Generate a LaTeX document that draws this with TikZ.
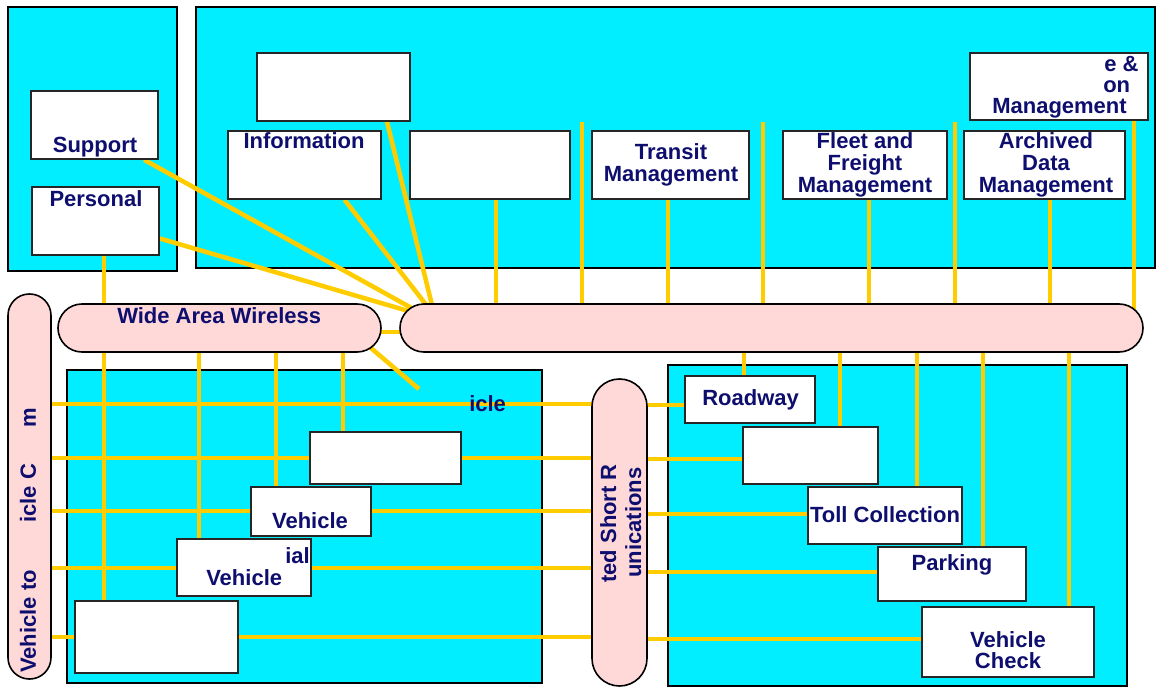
\documentclass[tikz,border=0pt]{standalone}
\usepackage{fontspec}
\setmainfont{Liberation Sans}
\usetikzlibrary{fit,calc}
\definecolor{panelcyan}{RGB}{0,238,255}
\definecolor{buspink}{RGB}{255,216,216}
\definecolor{wireyellow}{RGB}{255,204,0}
\definecolor{inknavy}{RGB}{14,14,110}
\pgfdeclarelayer{panels}
\pgfdeclarelayer{wires}
\pgfsetlayers{panels,wires,main}
\tikzset{
  panel/.style={draw=black, line width=1.3pt, fill=panelcyan, inner sep=0pt},
  unitbox/.style={draw=black!85, line width=1.2pt, fill=white, inner sep=0pt},
  busbar/.style={draw=black, line width=1.2pt, fill=buspink, inner sep=0pt, rounded corners=#1},
  wire/.style={draw=wireyellow, line width=3.4pt},
  lbl/.style={text=inknavy, font=\fontsize{16.5}{16}\selectfont\bfseries, inner sep=0pt, anchor=base},
}
\begin{document}
\begin{tikzpicture}[x=0.75pt, y=-0.75pt]
\useasboundingbox (0,0) rectangle (1156,688);

% ---- cyan subsystem panels
\begin{pgfonlayer}{panels}
  \node[panel, fit={(8,7) (177,271)}] (pA) {};
  \node[panel, fit={(196,7) (1155,268)}] (pB) {};
  \node[panel, fit={(67,370) (542,683)}] (pC) {};
  \node[panel, fit={(668,365) (1127,686)}] (pD) {};
\end{pgfonlayer}

% ---- communication buses
\node[busbar=18pt, fit={(58,304) (381,352)}] (waw) {};
\node[busbar=18pt, fit={(400,304) (1143,352)}] (its) {};
\node[busbar=16pt, fit={(8,294) (51,679)}] (v2v) {};
\node[busbar=20.6pt, fit={(592,379) (647,686)}] (dsrc) {};

% ---- subsystem boxes
\node[unitbox, fit={(31,91) (158,159)}] (sup) {};
\node[unitbox, fit={(32,187) (159,255)}] (per) {};
\node[unitbox, fit={(257,53) (410,121)}] (ua) {};
\node[unitbox, fit={(228,131) (381,199)}] (inf) {};
\node[unitbox, fit={(410,131) (570,199)}] (uc) {};
\node[unitbox, fit={(592,131) (749,199)}] (trn) {};
\node[unitbox, fit={(783,131) (947,199)}] (flt) {};
\node[unitbox, fit={(964,131) (1125,199)}] (arc) {};
\node[unitbox, fit={(970,53) (1148,120)}] (mcm) {};
\node[unitbox, fit={(310,432) (461,484)}] (va) {};
\node[unitbox, fit={(251,487) (371,536)}] (vb) {};
\node[unitbox, fit={(177,539) (311,596)}] (vc) {};
\node[unitbox, fit={(75,601) (238,673)}] (vd) {};
\node[unitbox, fit={(685,376) (815,423)}] (rd) {};
\node[unitbox, fit={(743,427) (878,484)}] (rb) {};
\node[unitbox, fit={(808,487) (962,544)}] (tol) {};
\node[unitbox, fit={(878,547) (1026,601)}] (prk) {};
\node[unitbox, fit={(922,607) (1094,677)}] (vck) {};

% free ends of the open wires
\coordinate (f1) at (582,122);
\coordinate (f2) at (763,122);
\coordinate (f3) at (955,122);
\coordinate (dg) at (419,389);

% ---- wires
\begin{pgfonlayer}{wires}
  % centres fanning into the main bus
  \draw[wire] ([xshift=-11pt]sup.south east) -- ($(its.west)+(16,-18)$);
  \draw[wire] ([yshift=13pt]per.south east) -- ($(its.west)+(16,-15)$);
  \draw[wire] ($(inf.south)+(40,0)$) -- ($(its.west)+(31,-18)$);
  \draw[wire] ($(ua.south)+(53.5,0)$) -- ($(its.west)+(34,-18)$);
  % drops from the upper panel
  \draw[wire] (496,0 |- uc.south) -- (496,0 |- its.center);
  \draw[wire] (f1) -- (f1 |- its.center);
  \draw[wire] (668,0 |- trn.south) -- (668,0 |- its.center);
  \draw[wire] (f2) -- (f2 |- its.center);
  \draw[wire] (869,0 |- flt.south) -- (869,0 |- its.center);
  \draw[wire] (f3) -- (f3 |- its.center);
  \draw[wire] (1050,0 |- arc.south) -- (1050,0 |- its.center);
  \draw[wire] (1134,0 |- mcm.south) -- (1134,0 |- its.center);
  % roadside drops
  \draw[wire] (744,0 |- its.center) -- (744,0 |- rd.north);
  \draw[wire] (840,0 |- its.center) -- (840,0 |- rb.north);
  \draw[wire] (917,0 |- its.center) -- (917,0 |- tol.north);
  \draw[wire] (983,0 |- its.center) -- (983,0 |- prk.north);
  \draw[wire] (1069,0 |- its.center) -- (1069,0 |- vck.north);
  % wide area wireless
  \draw[wire] (waw.center |- 0,332) -- (its.center |- 0,332);
  \draw[wire] ($(waw.east)+(-25,8)$) -- (dg);
  \draw[wire] (104,0 |- per.south) -- (104,0 |- vd.north);
  \draw[wire] (199,0 |- waw.center) -- (199,0 |- vc.north);
  \draw[wire] (276,0 |- waw.center) -- (276,0 |- vb.north);
  \draw[wire] (343,0 |- waw.center) -- (343,0 |- va.north);
  % vehicle to vehicle rows
  \foreach \yy in {404,458,511,568,637}
    \draw[wire] (v2v.center |- 0,\yy) -- (dsrc.center |- 0,\yy);
  % short range rows
  \draw[wire] (dsrc.center |- 0,405) -- (rd.west |- 0,405);
  \draw[wire] (dsrc.center |- 0,459) -- (rb.west |- 0,459);
  \draw[wire] (dsrc.center |- 0,514) -- (tol.west |- 0,514);
  \draw[wire] (dsrc.center |- 0,572) -- (prk.west |- 0,572);
  \draw[wire] (dsrc.center |- 0,639) -- (vck.west |- 0,639);
\end{pgfonlayer}

% ---- labels
\node[lbl] (tSup) at (95,152) {Support};
\node[lbl] (tPer) at (96,206) {Personal};
\node[lbl] (tInf) at (304,149) {Information};
\node[lbl] (tTr1) at (671,160) {Transit};
\node[lbl] (tTr2) at (671,181) {Management};
\node[lbl] (tFl1) at (865,149) {Fleet and};
\node[lbl] (tFl2) at (865,171) {Freight};
\node[lbl] (tFl3) at (865,193) {Management};
\node[lbl] (tAr1) at (1046,149) {Archived};
\node[lbl] (tAr2) at (1046,171) {Data};
\node[lbl] (tAr3) at (1046,193) {Management};
\node[lbl, anchor=base west] (tMc1) at (1104,72) {e \&};
\node[lbl, anchor=base west] (tMc2) at (1103,93) {on};
\node[lbl, anchor=base west] (tMc3) at (992,114) {Management};
\node[lbl, anchor=base west] (tWaw) at (117,323) {Wide Area Wireless};
\node[lbl, anchor=base west] (tIcl) at (469,411) {icle};
\node[lbl] (tVb) at (310,528) {Vehicle};
\node[lbl, anchor=base west] (tVc1) at (285,563) {ial};
\node[lbl, anchor=base west] (tVc2) at (206,585) {Vehicle};
\node[lbl, anchor=base west] (tRd) at (702,405) {Roadway};
\node[lbl] (tTol) at (885,522) {Toll Collection};
\node[lbl] (tPrk) at (952,570) {Parking};
\node[lbl] (tVk1) at (1008,647) {Vehicle};
\node[lbl] (tVk2) at (1008,668) {Check};
\node[lbl, anchor=base west, rotate=90] (tV2a) at (36,673) {Vehicle to};
\node[lbl, anchor=base west, rotate=90] (tV2b) at (36,523) {icle C};
\node[lbl, anchor=base west, rotate=90] (tV2c) at (36,428) {m};
\node[lbl, anchor=base west, rotate=90] (tDs1) at (616,583) {ted Short R};
\node[lbl, anchor=base west, rotate=90] (tDs2) at (641,578) {unications};
\end{tikzpicture}
\end{document}
